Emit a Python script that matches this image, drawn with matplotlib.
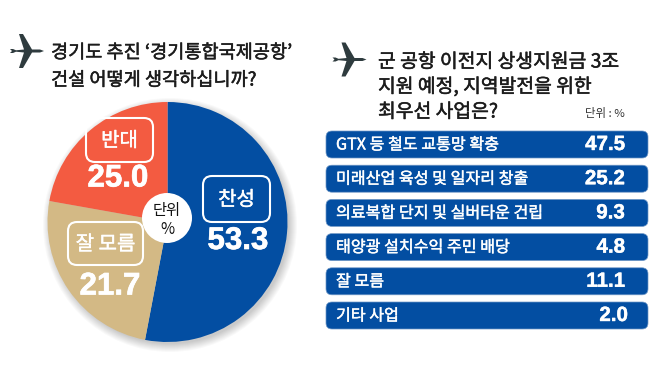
import matplotlib
matplotlib.use('agg')
import matplotlib.pyplot as plt
import matplotlib.patheffects as pe
from matplotlib.patches import Circle, FancyBboxPatch, Polygon

plt.rcParams['font.family'] = ['Noto Sans CJK KR', 'DejaVu Sans']

# left chart
pie_labels = ['찬성', '잘 모름', '반대']
pie_values = ['53.3', '21.7', '25.0']
# slice sizes as drawn in the picture (tan is drawn a bit larger than its label says)
pie_sizes = [53.0, 24.8, 22.2]
pie_colors = ['#034ea2', '#d3b985', '#f35b41']

# right chart
bar_labels = ['GTX 등 철도 교통망 확충', '미래산업 육성 및 일자리 창출', '의료복합 단지 및 실버타운 건립',
              '태양광 설치수익 주민 배당', '잘 모름', '기타 사업']
bar_values = ['47.5', '25.2', '9.3', '4.8', '11.1', '2.0']

left_title = ['경기도 추진 ‘경기통합국제공항’', '건설 어떻게 생각하십니까?']
right_title = ['군 공항 이전지 상생지원금 3조', '지원 예정, 지역발전을 위한', '최우선 사업은?']

W, H = 658, 370
fig = plt.figure(figsize=(W / 100, H / 100), dpi=100, facecolor='white')
num_font = ['Liberation Sans', 'DejaVu Sans']
medium = [pe.withStroke(linewidth=0.35, foreground='#1c1c1c')]
medium_w = [pe.withStroke(linewidth=0.3, foreground='white')]
heavy_w = [pe.withStroke(linewidth=0.5, foreground='white')]

# pixel coordinate axes for everything but the pie
ax = fig.add_axes([0, 0, 1, 1])
ax.set_xlim(0, W)
ax.set_ylim(H, 0)
ax.axis('off')

# soft shadow under the pie
for i in range(9):
    ax.add_patch(Circle((170, 225), 127 - i, fc='#000000', ec='none', alpha=0.025, zorder=1))

pie_ax = fig.add_axes([(167.5 - 120) / W, 1 - (222 + 120) / H, 240 / W, 240 / H])
pie_ax.pie(pie_sizes, colors=pie_colors, startangle=90, counterclock=False, radius=1)
pie_ax.set_xlim(-1, 1)
pie_ax.set_ylim(-1, 1)
pie_ax.set_zorder(2)

# overlay for text on top of the pie
top = fig.add_axes([0, 0, 1, 1])
top.set_xlim(0, W)
top.set_ylim(H, 0)
top.axis('off')
top.patch.set_alpha(0)
top.set_zorder(3)


def plane(a, cx, cy):
    # plane icon, pointing right
    pts = [(-17, -2), (-14, -2), (-11, -0.7), (-3, -1.5), (-8, -17), (-4, -17), (5, -1.5), (13, -1.5),
           (17, 0), (13, 1.5), (5, 1.5), (-4, 17), (-8, 17), (-3, 1.5), (-11, 0.7), (-14, 2), (-17, 2), (-15, 0)]
    a.add_patch(Polygon([(cx + x, cy + y) for x, y in pts], closed=True, fc='#2e3b3e', ec='none'))


plane(top, 27, 51)
plane(top, 349.5, 59.5)

for i, line in enumerate(left_title):
    top.text(51, 53 + i * 27.5, line, fontsize=13.4, color='#1c1c1c', va='center', ha='left', path_effects=medium)
for i, line in enumerate(right_title):
    top.text(378, 62 + i * 25, line, fontsize=13.9, color='#1c1c1c', va='center', ha='left', path_effects=medium)
top.text(625, 113, '단위 : %', fontsize=8.2, color='#333333', ha='right', va='center')

# label boxes on the pie
label_boxes = [(203, 176, 67, 46), (68, 222, 75, 43), (86, 118, 67, 44)]
value_pos = [(238, 241), (110, 286.5), (118, 178.5)]
for name, val, (x, y, w, h), (vx, vy) in zip(pie_labels, pie_values, label_boxes, value_pos):
    top.add_patch(FancyBboxPatch((x + 8, y + 8), w - 16, h - 16, boxstyle='round,pad=8,rounding_size=9',
                                 fc='none', ec='white', lw=1.5))
    top.text(x + w / 2, y + h / 2 + 1, name, color='white', fontsize=14.4, ha='center', va='center',
             path_effects=medium_w)
    top.text(vx, vy, val, color='white', fontsize=22.5, fontweight='bold', ha='center', va='center',
             family=num_font, path_effects=heavy_w)

top.add_patch(Circle((167, 218), 25, fc='white', ec='none'))
top.text(167, 220, '단위\n%', color='#111111', fontsize=11, ha='center', va='center', linespacing=1.1)

# right list, every bar has the same length in the picture
for i, (name, val) in enumerate(zip(bar_labels, bar_values)):
    y = 131 + i * 34.2
    top.add_patch(FancyBboxPatch((331, y + 5), 312, 17, boxstyle='round,pad=5,rounding_size=6',
                                 fc='#034ea2', ec='#6f97c6', lw=0.5))
    top.text(336, y + 14, name, color='white', fontsize=11.6, ha='left', va='center', path_effects=medium_w)
    top.text(628 if val == '2.0' else 625, y + 13.5, val, color='white', fontsize=14.8, fontweight='bold',
             ha='right', va='center', family=num_font, path_effects=medium_w)

fig.savefig('out.png', dpi=100)
